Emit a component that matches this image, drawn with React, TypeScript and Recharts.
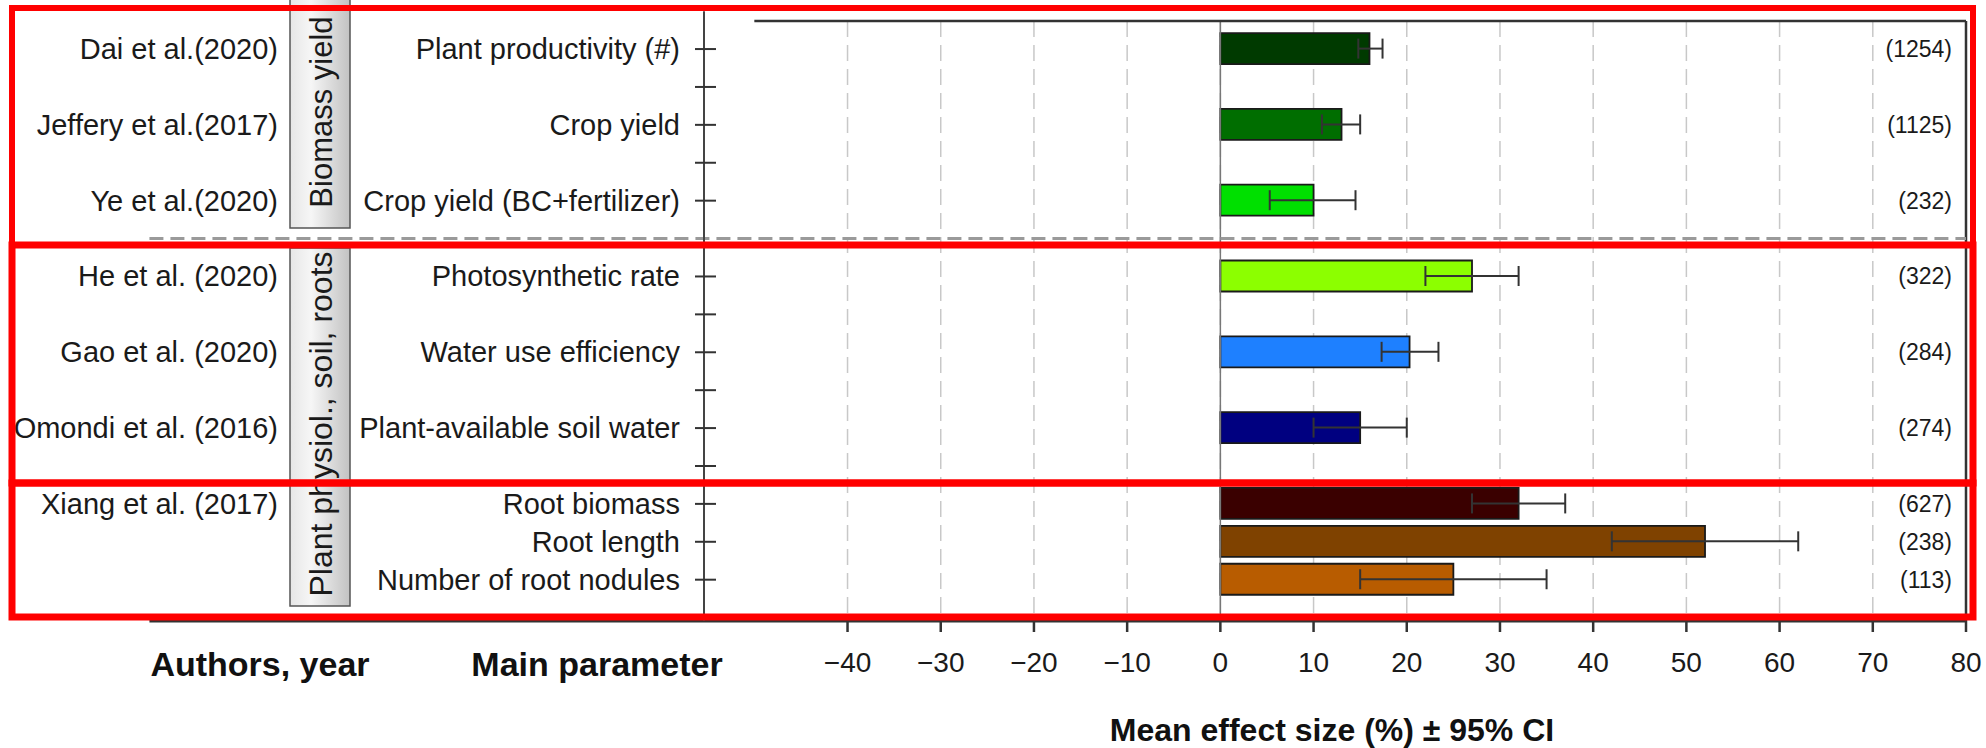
import React from 'react';
import {
  ComposedChart, Bar, Cell, ErrorBar, XAxis, YAxis, CartesianGrid, ReferenceLine,
} from 'recharts';

const FONT = '"Liberation Sans", Arial, sans-serif';

const parameters = [
  'Plant productivity (#)', 'Crop yield', 'Crop yield (BC+fertilizer)',
  'Photosynthetic rate', 'Water use efficiency', 'Plant-available soil water',
  'Root biomass', 'Root length', 'Number of root nodules',
];
const authors = [
  'Dai et al.(2020)', 'Jeffery et al.(2017)', 'Ye et al.(2020)',
  'He et al. (2020)', 'Gao et al. (2020)', 'Omondi et al. (2016)',
  'Xiang et al. (2017)', '', '',
];
const rowPositions = [1, 3, 5, 7, 9, 11, 13, 14, 15];
const meanEffect = [16, 13, 10, 27, 20.3, 15, 32, 52, 25];
const ciLower = [14.8, 10.9, 5.3, 22, 17.3, 10, 27, 42, 15];
const ciUpper = [17.4, 15, 14.5, 32, 23.4, 20, 37, 62, 35];
const sampleSizes = [1254, 1125, 232, 322, 284, 274, 627, 238, 113];
const barColors = [
  '#003a00', '#006e00', '#00e000', '#8cff00', '#1e80ff', '#000080',
  '#3a0000', '#7f4200', '#b85c00',
];
const groupNames = ['Biomass yield', 'Plant physiol., soil, roots'];
const xTicks = [-40, -30, -20, -10, 0, 10, 20, 30, 40, 50, 60, 70, 80];
const yTicks = [1, 2, 3, 4, 5, 7, 8, 9, 10, 11, 12, 13, 14, 15];

const X_DOMAIN: [number, number] = [-55.4, 80];
const Y_DOMAIN: [number, number] = [0.26, 16.09];
const X_LEFT_EXT = -114.9; // where the separator / bottom line start (under the labels)

const rows = parameters.map((p, i) => ({
  name: p,
  pos: rowPositions[i],
  value: meanEffect[i],
  err: [meanEffect[i] - ciLower[i], ciUpper[i] - meanEffect[i]],
}));

const fmtX = (v: number) => (v < 0 ? `\u2212${Math.abs(v)}` : `${v}`);

// y-axis tick: draws the crossing tick, the parameter, the author and the n
const RowTick = (props: any) => {
  const { x, y, payload } = props;
  const i = rowPositions.indexOf(payload.value);
  return (
    <g>
      <line x1={x - 9} x2={x + 12} y1={y} y2={y} stroke="#333" strokeWidth={2} />
      {i >= 0 && (
        <>
          <text x={x - 24} y={y} textAnchor="end" dominantBaseline="central"
            fontSize={29} fill="#1a1a1a" fontFamily={FONT}>{parameters[i]}</text>
          {authors[i] && (
            <text x={278} y={y} textAnchor="end" dominantBaseline="central"
              fontSize={29} fill="#1a1a1a" fontFamily={FONT}>{authors[i]}</text>
          )}
          <text x={1952} y={y} textAnchor="end" dominantBaseline="central"
            fontSize={23} fill="#1a1a1a" fontFamily={FONT}>({sampleSizes[i]})</text>
        </>
      )}
    </g>
  );
};

export default function App() {
  return (
    <div style={{ position: 'absolute', left: 0, top: 0, width: 1986, height: 748, background: '#fff' }}>
      <ComposedChart
        width={1986}
        height={748}
        data={rows}
        layout="vertical"
        margin={{ top: 21, right: 20, bottom: 0, left: 0 }}
      >
        <CartesianGrid horizontal={false} stroke="#c8c8c8" strokeDasharray="16 8" strokeWidth={1.5} />
        <XAxis
          type="number"
          domain={X_DOMAIN}
          ticks={xTicks}
          interval={0}
          allowDataOverflow
          tickFormatter={fmtX}
          axisLine={false}
          tickLine={{ stroke: '#333', strokeWidth: 2.5 }}
          tickSize={11}
          tickMargin={20}
          height={127}
          tick={{ fontSize: 28, fill: '#1a1a1a', fontFamily: FONT }}
        />
        <YAxis
          type="number"
          dataKey="pos"
          domain={Y_DOMAIN}
          allowDataOverflow
          ticks={yTicks}
          interval={0}
          width={704}
          tickSize={0}
          tickMargin={0}
          tickLine={false}
          axisLine={{ stroke: '#444', strokeWidth: 2 }}
          tick={<RowTick />}
        />
        <ReferenceLine x={0} stroke="#777" strokeWidth={1.5} />
        <ReferenceLine x={80} stroke="#333" strokeWidth={2.5} />
        <ReferenceLine
          segment={[{ x: X_DOMAIN[0], y: 0 }, { x: X_DOMAIN[0], y: Y_DOMAIN[0] }]}
          ifOverflow="visible"
          stroke="#444" strokeWidth={2}
        />
        <ReferenceLine
          segment={[{ x: -50, y: Y_DOMAIN[0] }, { x: 80, y: Y_DOMAIN[0] }]}
          stroke="#333" strokeWidth={2.5}
        />
        <ReferenceLine
          segment={[{ x: X_LEFT_EXT, y: 6 }, { x: 80, y: 6 }]}
          ifOverflow="visible"
          stroke="#9a9a9a" strokeWidth={3} strokeDasharray="14 7"
        />
        <ReferenceLine
          segment={[{ x: X_LEFT_EXT, y: Y_DOMAIN[1] }, { x: 80, y: Y_DOMAIN[1] }]}
          ifOverflow="visible"
          stroke="#333" strokeWidth={3}
        />
        <Bar dataKey="value" barSize={31} stroke="#1a1a1a" strokeWidth={1.8} isAnimationActive={false}>
          {rows.map((_, i) => (
            <Cell key={i} fill={barColors[i]} />
          ))}
          <ErrorBar dataKey="err" direction="x" width={10} stroke="#333" strokeWidth={2} isAnimationActive={false} />
        </Bar>
      </ComposedChart>

      <svg width={1986} height={748} style={{ position: 'absolute', left: 0, top: 0, pointerEvents: 'none' }}>
        <defs>
          <linearGradient id="boxGrad" x1="0" x2="1" y1="0" y2="0">
            <stop offset="0%" stopColor="#e6e6e6" />
            <stop offset="35%" stopColor="#f6f6f6" />
            <stop offset="100%" stopColor="#c2c2c2" />
          </linearGradient>
        </defs>
        <rect x={290} y={-2} width={60} height={230} fill="url(#boxGrad)" stroke="#555" strokeWidth={1.5} />
        <text transform="translate(321,112) rotate(-90)" textAnchor="middle" dominantBaseline="central"
          fontSize={31} fill="#1a1a1a" fontFamily={FONT}>{groupNames[0]}</text>
        <rect x={290} y={248} width={60} height={358} fill="url(#boxGrad)" stroke="#555" strokeWidth={1.5} />
        <text transform="translate(321,424) rotate(-90)" textAnchor="middle" dominantBaseline="central"
          fontSize={32} fill="#1a1a1a" fontFamily={FONT}>{groupNames[1]}</text>

        <text x={260} y={664} textAnchor="middle" dominantBaseline="central" fontSize={34}
          fontWeight="bold" fill="#111" fontFamily={FONT}>Authors, year</text>
        <text x={597} y={664} textAnchor="middle" dominantBaseline="central" fontSize={34}
          fontWeight="bold" fill="#111" fontFamily={FONT}>Main parameter</text>
        <text x={1332} y={730} textAnchor="middle" dominantBaseline="central" fontSize={32}
          fontWeight="bold" fill="#111" fontFamily={FONT}>Mean effect size (%) ± 95% CI</text>

        <rect x={12} y={8} width={1961} height={237} fill="none" stroke="#ff0000" strokeWidth={6} />
        <rect x={12} y={245} width={1961} height={238} fill="none" stroke="#ff0000" strokeWidth={7} />
        <rect x={12} y={483} width={1961} height={134} fill="none" stroke="#ff0000" strokeWidth={7} />
      </svg>
    </div>
  );
}
